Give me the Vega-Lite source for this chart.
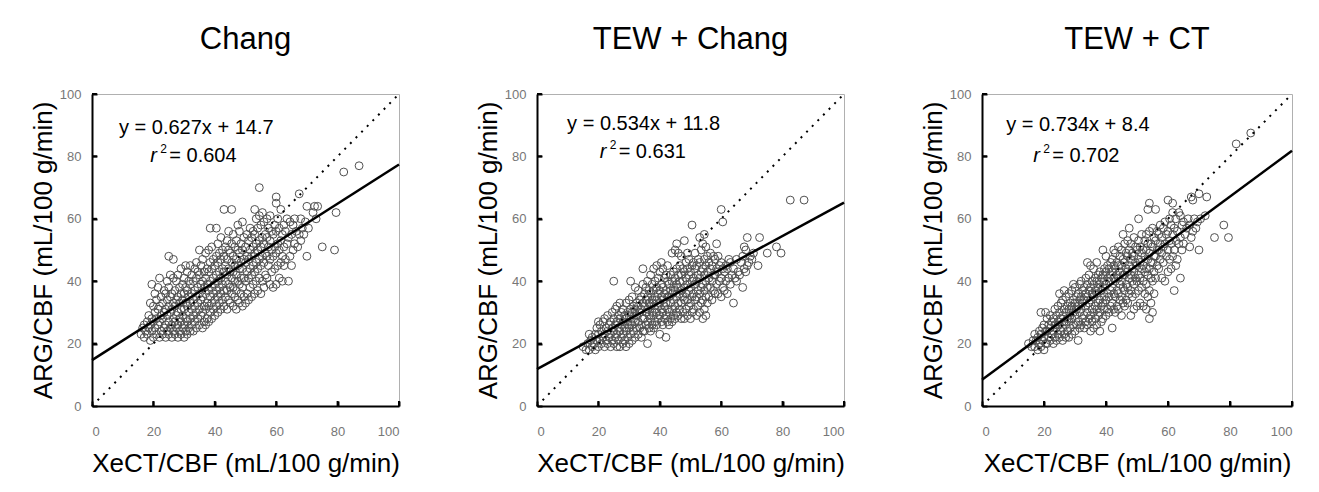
{
"$schema": "https://vega.github.io/schema/vega-lite/v6.json",
"padding": {"left": 29, "top": 23, "right": 5, "bottom": 5},
"background": "white",
"datasets": {
"tk": [{"x":20,"y":20},{"x":40,"y":40},{"x":60,"y":60},{"x":80,"y":80},{"x":100,"y":100}],
"diag": [{"x":0,"y":0},{"x":100,"y":100}],
"fit": [{"g":"a","x":0,"y":14.7},{"g":"a","x":100,"y":77.4},{"g":"b","x":0,"y":11.8},{"g":"b","x":100,"y":65.2},{"g":"c","x":0,"y":8.4},{"g":"c","x":100,"y":81.8}],
"a": [
{"x":16,"y":23},{"x":16.5,"y":25},
{"x":17,"y":22},{"x":17.5,"y":24},{"x":17,"y":26},
{"x":18,"y":23},{"x":18.5,"y":25},{"x":18,"y":27},{"x":18.5,"y":29},
{"x":19,"y":21},{"x":19.5,"y":24},{"x":19,"y":26},{"x":19.5,"y":28},{"x":19,"y":33},{"x":19.5,"y":39},
{"x":20,"y":22},{"x":20.5,"y":25},{"x":20,"y":27},{"x":20.5,"y":30},{"x":20,"y":32},{"x":20.5,"y":36},
{"x":21,"y":23},{"x":21.5,"y":26},{"x":21,"y":28},{"x":21.5,"y":31},{"x":21,"y":34},{"x":21.5,"y":38},
{"x":22,"y":22},{"x":22.5,"y":24},{"x":22,"y":27},{"x":22.5,"y":29},{"x":22,"y":32},{"x":22.5,"y":35},{"x":22,"y":41},
{"x":23,"y":23},{"x":23.5,"y":25},{"x":23,"y":28},{"x":23.5,"y":30},{"x":23,"y":33},{"x":23.5,"y":37},
{"x":24,"y":22},{"x":24.5,"y":24},{"x":24,"y":26},{"x":24.5,"y":29},{"x":24,"y":31},{"x":24.5,"y":34},{"x":24,"y":36},{"x":24.5,"y":40},
{"x":25,"y":23},{"x":25.5,"y":25},{"x":25,"y":27},{"x":25.5,"y":30},{"x":25,"y":32},{"x":25.5,"y":35},{"x":25,"y":38},{"x":25.5,"y":42},{"x":25,"y":48},
{"x":26,"y":22},{"x":26.5,"y":24},{"x":26,"y":26},{"x":26.5,"y":28},{"x":26,"y":31},{"x":26.5,"y":33},{"x":26,"y":36},{"x":26.5,"y":41},{"x":26.5,"y":47},
{"x":27,"y":23},{"x":27.5,"y":25},{"x":27,"y":27},{"x":27.5,"y":29},{"x":27,"y":32},{"x":27.5,"y":34},{"x":27,"y":37},{"x":27.5,"y":40},
{"x":28,"y":22},{"x":28.5,"y":24},{"x":28,"y":26},{"x":28.5,"y":28},{"x":28,"y":30},{"x":28.5,"y":33},{"x":28,"y":35},{"x":28.5,"y":38},{"x":28,"y":42},
{"x":29,"y":23},{"x":29.5,"y":25},{"x":29,"y":27},{"x":29.5,"y":29},{"x":29,"y":31},{"x":29.5,"y":34},{"x":29,"y":36},{"x":29.5,"y":39},{"x":29,"y":44},
{"x":30,"y":22},{"x":30.5,"y":24},{"x":30,"y":26},{"x":30.5,"y":28},{"x":30,"y":31},{"x":30.5,"y":33},{"x":30,"y":36},{"x":30.5,"y":38},{"x":30,"y":41},{"x":30.5,"y":45},
{"x":31,"y":23},{"x":31.5,"y":25},{"x":31,"y":27},{"x":31.5,"y":30},{"x":31,"y":32},{"x":31.5,"y":35},{"x":31,"y":37},{"x":31.5,"y":40},{"x":31,"y":43},
{"x":32,"y":24},{"x":32.5,"y":26},{"x":32,"y":28},{"x":32.5,"y":31},{"x":32,"y":33},{"x":32.5,"y":36},{"x":32,"y":39},{"x":32.5,"y":42},{"x":32,"y":45},
{"x":33,"y":24},{"x":33.5,"y":27},{"x":33,"y":29},{"x":33.5,"y":32},{"x":33,"y":34},{"x":33.5,"y":37},{"x":33,"y":40},{"x":33.5,"y":44},
{"x":34,"y":25},{"x":34.5,"y":28},{"x":34,"y":30},{"x":34.5,"y":33},{"x":34,"y":35},{"x":34.5,"y":38},{"x":34,"y":41},{"x":34.5,"y":43},{"x":34,"y":46},
{"x":35,"y":26},{"x":35.5,"y":29},{"x":35,"y":31},{"x":35.5,"y":34},{"x":35,"y":36},{"x":35.5,"y":39},{"x":35,"y":42},{"x":35.5,"y":45},{"x":35,"y":50},
{"x":36,"y":25},{"x":36.5,"y":27},{"x":36,"y":30},{"x":36.5,"y":32},{"x":36,"y":35},{"x":36.5,"y":38},{"x":36,"y":40},{"x":36.5,"y":43},{"x":36,"y":47},
{"x":37,"y":26},{"x":37.5,"y":28},{"x":37,"y":31},{"x":37.5,"y":33},{"x":37,"y":36},{"x":37.5,"y":39},{"x":37,"y":41},{"x":37.5,"y":44},{"x":37,"y":49},
{"x":38,"y":27},{"x":38.5,"y":30},{"x":38,"y":32},{"x":38.5,"y":35},{"x":38,"y":37},{"x":38.5,"y":40},{"x":38,"y":43},{"x":38.5,"y":46},{"x":38,"y":50},{"x":38.5,"y":57},
{"x":39,"y":28},{"x":39.5,"y":31},{"x":39,"y":33},{"x":39.5,"y":36},{"x":39,"y":38},{"x":39.5,"y":41},{"x":39,"y":44},{"x":39.5,"y":47},{"x":39,"y":51},
{"x":40,"y":29},{"x":40.5,"y":32},{"x":40,"y":34},{"x":40.5,"y":37},{"x":40,"y":39},{"x":40.5,"y":42},{"x":40,"y":45},{"x":40.5,"y":48},{"x":40.5,"y":57},
{"x":41,"y":30},{"x":41.5,"y":33},{"x":41,"y":35},{"x":41.5,"y":38},{"x":41,"y":40},{"x":41.5,"y":43},{"x":41,"y":46},{"x":41.5,"y":49},{"x":41,"y":52},
{"x":42,"y":31},{"x":42.5,"y":34},{"x":42,"y":36},{"x":42.5,"y":39},{"x":42,"y":41},{"x":42.5,"y":44},{"x":42,"y":47},{"x":42.5,"y":50},{"x":42,"y":54},
{"x":43,"y":32},{"x":43.5,"y":35},{"x":43,"y":37},{"x":43.5,"y":40},{"x":43,"y":43},{"x":43.5,"y":45},{"x":43,"y":48},{"x":43.5,"y":51},{"x":43,"y":63},
{"x":44,"y":31},{"x":44.5,"y":34},{"x":44,"y":37},{"x":44.5,"y":39},{"x":44,"y":42},{"x":44.5,"y":44},{"x":44,"y":47},{"x":44.5,"y":50},{"x":44,"y":53},{"x":44.5,"y":56},
{"x":45,"y":33},{"x":45.5,"y":36},{"x":45,"y":38},{"x":45.5,"y":41},{"x":45,"y":43},{"x":45.5,"y":46},{"x":45,"y":49},{"x":45.5,"y":52},{"x":45.5,"y":63},
{"x":46,"y":32},{"x":46.5,"y":35},{"x":46,"y":38},{"x":46.5,"y":40},{"x":46,"y":43},{"x":46.5,"y":45},{"x":46,"y":48},{"x":46.5,"y":51},{"x":46,"y":55},
{"x":47,"y":31},{"x":47.5,"y":34},{"x":47,"y":37},{"x":47.5,"y":40},{"x":47,"y":42},{"x":47.5,"y":45},{"x":47,"y":47},{"x":47.5,"y":50},{"x":47,"y":53},{"x":47.5,"y":58},
{"x":48,"y":33},{"x":48.5,"y":36},{"x":48,"y":39},{"x":48.5,"y":41},{"x":48,"y":44},{"x":48.5,"y":46},{"x":48,"y":49},{"x":48.5,"y":52},{"x":48,"y":56},
{"x":49,"y":32},{"x":49.5,"y":35},{"x":49,"y":38},{"x":49.5,"y":41},{"x":49,"y":44},{"x":49.5,"y":47},{"x":49,"y":50},{"x":49.5,"y":54},{"x":49,"y":59},
{"x":50,"y":33},{"x":50.5,"y":36},{"x":50,"y":40},{"x":50.5,"y":43},{"x":50,"y":46},{"x":50.5,"y":48},{"x":50,"y":51},{"x":50.5,"y":55},
{"x":51,"y":34},{"x":51.5,"y":38},{"x":51,"y":41},{"x":51.5,"y":44},{"x":51,"y":47},{"x":51.5,"y":50},{"x":51,"y":53},{"x":51.5,"y":57},
{"x":52,"y":35},{"x":52.5,"y":39},{"x":52,"y":42},{"x":52.5,"y":45},{"x":52,"y":48},{"x":52.5,"y":51},{"x":52,"y":54},{"x":52.5,"y":56},
{"x":53,"y":36},{"x":53.5,"y":40},{"x":53,"y":43},{"x":53.5,"y":46},{"x":53,"y":49},{"x":53.5,"y":52},{"x":53,"y":55},{"x":53.5,"y":60},{"x":53,"y":63},
{"x":54,"y":37},{"x":54.5,"y":41},{"x":54,"y":44},{"x":54.5,"y":47},{"x":54,"y":50},{"x":54.5,"y":53},{"x":54,"y":57},{"x":54.5,"y":61},{"x":54.5,"y":70},
{"x":55,"y":36},{"x":55.5,"y":40},{"x":55,"y":45},{"x":55.5,"y":48},{"x":55,"y":51},{"x":55.5,"y":54},{"x":55,"y":58},{"x":55.5,"y":62},
{"x":56,"y":38},{"x":56.5,"y":42},{"x":56,"y":46},{"x":56.5,"y":49},{"x":56,"y":52},{"x":56.5,"y":55},{"x":56,"y":59},
{"x":57,"y":41},{"x":57.5,"y":45},{"x":57,"y":48},{"x":57.5,"y":51},{"x":57,"y":54},{"x":57.5,"y":57},{"x":57,"y":60},
{"x":58,"y":39},{"x":58.5,"y":43},{"x":58,"y":47},{"x":58.5,"y":50},{"x":58,"y":53},{"x":58.5,"y":56},{"x":58,"y":61},
{"x":59,"y":38},{"x":59.5,"y":44},{"x":59,"y":48},{"x":59.5,"y":51},{"x":59,"y":55},{"x":59.5,"y":58},
{"x":60,"y":39},{"x":60.5,"y":45},{"x":60,"y":49},{"x":60.5,"y":52},{"x":60,"y":56},{"x":60.5,"y":60},{"x":60,"y":65},{"x":60,"y":67},
{"x":61,"y":41},{"x":61.5,"y":46},{"x":61,"y":50},{"x":61.5,"y":53},{"x":61,"y":57},{"x":61.5,"y":63},
{"x":62,"y":40},{"x":62.5,"y":45},{"x":62,"y":48},{"x":62.5,"y":51},{"x":62,"y":55},{"x":62.5,"y":58},
{"x":63,"y":47},{"x":63.5,"y":52},{"x":63,"y":56},{"x":63.5,"y":60},
{"x":64,"y":40},{"x":64.5,"y":48},{"x":64,"y":54},{"x":64.5,"y":59},
{"x":65,"y":45},{"x":65.5,"y":50},{"x":65,"y":55},{"x":65.5,"y":58},
{"x":66,"y":52},{"x":66.5,"y":56},{"x":66,"y":60},
{"x":67,"y":51},{"x":67.5,"y":55},{"x":67.5,"y":68},
{"x":68,"y":53},{"x":68.5,"y":57},{"x":68,"y":60},
{"x":69,"y":55},{"x":69.5,"y":59},
{"x":70,"y":48},{"x":70.5,"y":57},{"x":70,"y":64},
{"x":72,"y":62},{"x":72.5,"y":64},
{"x":73,"y":60},{"x":73.5,"y":64},
{"x":75,"y":51},
{"x":79,"y":50},{"x":79.5,"y":62},
{"x":82,"y":75},
{"x":87,"y":77}
],
"b": [
{"x":15,"y":19},
{"x":16,"y":18},{"x":16.5,"y":20},
{"x":17,"y":18},{"x":17.5,"y":21},{"x":17,"y":23},
{"x":18,"y":19},{"x":18.5,"y":20},{"x":18,"y":22},
{"x":19,"y":18},{"x":19.5,"y":21},{"x":19,"y":23},{"x":19.5,"y":25},
{"x":20,"y":19},{"x":20.5,"y":21},{"x":20,"y":23},{"x":20.5,"y":26},{"x":20,"y":27},
{"x":21,"y":20},{"x":21.5,"y":22},{"x":21,"y":24},{"x":21.5,"y":27},
{"x":22,"y":19},{"x":22.5,"y":21},{"x":22,"y":23},{"x":22.5,"y":25},{"x":22,"y":28},
{"x":23,"y":20},{"x":23.5,"y":22},{"x":23,"y":24},{"x":23.5,"y":26},{"x":23,"y":29},
{"x":24,"y":19},{"x":24.5,"y":21},{"x":24,"y":23},{"x":24.5,"y":25},{"x":24,"y":27},{"x":24.5,"y":30},
{"x":25,"y":20},{"x":25.5,"y":22},{"x":25,"y":24},{"x":25.5,"y":26},{"x":25,"y":28},{"x":25.5,"y":31},{"x":25,"y":40},
{"x":26,"y":19},{"x":26.5,"y":21},{"x":26,"y":23},{"x":26.5,"y":25},{"x":26,"y":27},{"x":26.5,"y":29},{"x":26,"y":32},
{"x":27,"y":19},{"x":27.5,"y":22},{"x":27,"y":24},{"x":27.5,"y":26},{"x":27,"y":28},{"x":27.5,"y":30},{"x":27,"y":33},
{"x":28,"y":20},{"x":28.5,"y":21},{"x":28,"y":23},{"x":28.5,"y":25},{"x":28,"y":27},{"x":28.5,"y":29},{"x":28,"y":31},
{"x":29,"y":19},{"x":29.5,"y":22},{"x":29,"y":24},{"x":29.5,"y":26},{"x":29,"y":28},{"x":29.5,"y":30},{"x":29,"y":33},
{"x":30,"y":20},{"x":30.5,"y":23},{"x":30,"y":25},{"x":30.5,"y":27},{"x":30,"y":29},{"x":30.5,"y":31},{"x":30,"y":34},{"x":30.5,"y":40},
{"x":31,"y":21},{"x":31.5,"y":24},{"x":31,"y":26},{"x":31.5,"y":28},{"x":31,"y":30},{"x":31.5,"y":32},{"x":31,"y":35},
{"x":32,"y":22},{"x":32.5,"y":25},{"x":32,"y":27},{"x":32.5,"y":29},{"x":32,"y":31},{"x":32.5,"y":33},{"x":32,"y":38},
{"x":33,"y":23},{"x":33.5,"y":25},{"x":33,"y":27},{"x":33.5,"y":30},{"x":33,"y":32},{"x":33.5,"y":34},{"x":33,"y":37},
{"x":34,"y":22},{"x":34.5,"y":24},{"x":34,"y":26},{"x":34.5,"y":28},{"x":34,"y":31},{"x":34.5,"y":33},{"x":34,"y":35},{"x":34.5,"y":39},{"x":34.5,"y":44},
{"x":35,"y":24},{"x":35.5,"y":26},{"x":35,"y":28},{"x":35.5,"y":30},{"x":35,"y":32},{"x":35.5,"y":34},{"x":35,"y":36},{"x":35.5,"y":38},
{"x":36,"y":20},{"x":36.5,"y":25},{"x":36,"y":27},{"x":36.5,"y":29},{"x":36,"y":31},{"x":36.5,"y":33},{"x":36,"y":35},{"x":36.5,"y":37},{"x":36,"y":40},
{"x":37,"y":24},{"x":37.5,"y":26},{"x":37,"y":28},{"x":37.5,"y":30},{"x":37,"y":32},{"x":37.5,"y":34},{"x":37,"y":36},{"x":37.5,"y":39},{"x":37,"y":42},
{"x":38,"y":25},{"x":38.5,"y":27},{"x":38,"y":29},{"x":38.5,"y":31},{"x":38,"y":33},{"x":38.5,"y":35},{"x":38,"y":37},{"x":38.5,"y":40},{"x":38,"y":44},
{"x":39,"y":26},{"x":39.5,"y":28},{"x":39,"y":30},{"x":39.5,"y":32},{"x":39,"y":34},{"x":39.5,"y":36},{"x":39,"y":38},{"x":39.5,"y":41},{"x":39,"y":45},
{"x":40,"y":23},{"x":40.5,"y":27},{"x":40,"y":29},{"x":40.5,"y":31},{"x":40,"y":33},{"x":40.5,"y":35},{"x":40,"y":37},{"x":40.5,"y":39},{"x":40,"y":43},{"x":40.5,"y":46},
{"x":41,"y":26},{"x":41.5,"y":28},{"x":41,"y":30},{"x":41.5,"y":32},{"x":41,"y":34},{"x":41.5,"y":36},{"x":41,"y":38},{"x":41.5,"y":41},{"x":41,"y":44},
{"x":42,"y":22},{"x":42.5,"y":27},{"x":42,"y":29},{"x":42.5,"y":31},{"x":42,"y":33},{"x":42.5,"y":35},{"x":42,"y":37},{"x":42.5,"y":40},{"x":42,"y":42},{"x":42.5,"y":45},
{"x":43,"y":26},{"x":43.5,"y":28},{"x":43,"y":30},{"x":43.5,"y":33},{"x":43,"y":35},{"x":43.5,"y":37},{"x":43,"y":39},{"x":43.5,"y":42},
{"x":44,"y":27},{"x":44.5,"y":29},{"x":44,"y":31},{"x":44.5,"y":34},{"x":44,"y":36},{"x":44.5,"y":38},{"x":44,"y":40},{"x":44.5,"y":43},{"x":44,"y":49},
{"x":45,"y":28},{"x":45.5,"y":30},{"x":45,"y":32},{"x":45.5,"y":35},{"x":45,"y":37},{"x":45.5,"y":39},{"x":45,"y":41},{"x":45.5,"y":44},{"x":45,"y":50},{"x":45.5,"y":52},
{"x":46,"y":29},{"x":46.5,"y":31},{"x":46,"y":33},{"x":46.5,"y":36},{"x":46,"y":38},{"x":46.5,"y":40},{"x":46,"y":42},{"x":46.5,"y":45},{"x":46,"y":49},
{"x":47,"y":28},{"x":47.5,"y":30},{"x":47,"y":33},{"x":47.5,"y":35},{"x":47,"y":37},{"x":47.5,"y":40},{"x":47,"y":42},{"x":47.5,"y":44},{"x":47,"y":48},
{"x":48,"y":28},{"x":48.5,"y":31},{"x":48,"y":34},{"x":48.5,"y":36},{"x":48,"y":38},{"x":48.5,"y":41},{"x":48,"y":43},{"x":48.5,"y":46},{"x":48,"y":53},
{"x":49,"y":29},{"x":49.5,"y":32},{"x":49,"y":34},{"x":49.5,"y":37},{"x":49,"y":39},{"x":49.5,"y":42},{"x":49,"y":44},{"x":49.5,"y":47},{"x":49,"y":49},
{"x":50,"y":28},{"x":50.5,"y":30},{"x":50,"y":33},{"x":50.5,"y":35},{"x":50,"y":38},{"x":50.5,"y":40},{"x":50,"y":43},{"x":50.5,"y":45},{"x":50.5,"y":58},
{"x":51,"y":31},{"x":51.5,"y":34},{"x":51,"y":36},{"x":51.5,"y":39},{"x":51,"y":41},{"x":51.5,"y":44},{"x":51,"y":46},{"x":51.5,"y":49},
{"x":52,"y":29},{"x":52.5,"y":32},{"x":52,"y":35},{"x":52.5,"y":37},{"x":52,"y":40},{"x":52.5,"y":42},{"x":52,"y":45},{"x":52.5,"y":47},
{"x":53,"y":30},{"x":53.5,"y":33},{"x":53,"y":36},{"x":53.5,"y":38},{"x":53,"y":41},{"x":53.5,"y":43},{"x":53,"y":46},{"x":53.5,"y":50},{"x":53,"y":54},
{"x":54,"y":28},{"x":54.5,"y":31},{"x":54,"y":34},{"x":54.5,"y":37},{"x":54,"y":39},{"x":54.5,"y":42},{"x":54,"y":44},{"x":54.5,"y":47},{"x":54,"y":52},{"x":54.5,"y":55},
{"x":55,"y":29},{"x":55.5,"y":33},{"x":55,"y":35},{"x":55.5,"y":38},{"x":55,"y":40},{"x":55.5,"y":43},{"x":55,"y":45},{"x":55.5,"y":48},{"x":55,"y":51},
{"x":56,"y":35},{"x":56.5,"y":38},{"x":56,"y":41},{"x":56.5,"y":44},{"x":56,"y":46},{"x":56.5,"y":49},
{"x":57,"y":34},{"x":57.5,"y":37},{"x":57,"y":40},{"x":57.5,"y":42},{"x":57,"y":45},{"x":57.5,"y":48},
{"x":58,"y":36},{"x":58.5,"y":39},{"x":58,"y":42},{"x":58.5,"y":44},{"x":58,"y":47},{"x":58.5,"y":52},
{"x":59,"y":36},{"x":59.5,"y":40},{"x":59,"y":43},{"x":59.5,"y":45},{"x":59,"y":48},
{"x":60,"y":35},{"x":60.5,"y":38},{"x":60,"y":41},{"x":60.5,"y":44},{"x":60,"y":46},{"x":60.5,"y":59},{"x":60,"y":63},
{"x":61,"y":37},{"x":61.5,"y":40},{"x":61,"y":43},{"x":61.5,"y":45},
{"x":62,"y":36},{"x":62.5,"y":41},{"x":62,"y":44},{"x":62.5,"y":47},
{"x":63,"y":39},{"x":63.5,"y":42},{"x":63,"y":46},
{"x":64,"y":33},{"x":64.5,"y":41},{"x":64,"y":44},
{"x":65,"y":40},{"x":65.5,"y":43},{"x":65,"y":47},
{"x":66,"y":42},{"x":66.5,"y":46},
{"x":67,"y":38},{"x":67.5,"y":44},{"x":67,"y":48},{"x":67.5,"y":51},
{"x":68,"y":43},{"x":68.5,"y":45},{"x":68,"y":50},{"x":68.5,"y":54},
{"x":69,"y":46},{"x":69.5,"y":48},
{"x":70,"y":47},{"x":70.5,"y":49},
{"x":72,"y":45},{"x":72.5,"y":54},
{"x":75,"y":49},
{"x":78,"y":51},
{"x":79.5,"y":49},
{"x":82.5,"y":66},
{"x":87,"y":66}
],
"c": [
{"x":15,"y":20},
{"x":16,"y":19},{"x":16.5,"y":21},
{"x":17,"y":19},{"x":17.5,"y":21},{"x":17,"y":23},
{"x":18,"y":18},{"x":18.5,"y":20},{"x":18,"y":22},{"x":18.5,"y":24},
{"x":19,"y":19},{"x":19.5,"y":21},{"x":19,"y":23},{"x":19.5,"y":25},{"x":19,"y":30},
{"x":20,"y":18},{"x":20.5,"y":20},{"x":20,"y":22},{"x":20.5,"y":24},{"x":20,"y":26},{"x":20.5,"y":30},
{"x":21,"y":20},{"x":21.5,"y":22},{"x":21,"y":24},{"x":21.5,"y":26},{"x":21,"y":28},
{"x":22,"y":21},{"x":22.5,"y":23},{"x":22,"y":25},{"x":22.5,"y":27},{"x":22,"y":29},
{"x":23,"y":20},{"x":23.5,"y":22},{"x":23,"y":24},{"x":23.5,"y":26},{"x":23,"y":28},{"x":23.5,"y":31},
{"x":24,"y":21},{"x":24.5,"y":23},{"x":24,"y":25},{"x":24.5,"y":27},{"x":24,"y":29},{"x":24.5,"y":32},
{"x":25,"y":22},{"x":25.5,"y":24},{"x":25,"y":26},{"x":25.5,"y":28},{"x":25,"y":30},{"x":25.5,"y":33},{"x":25,"y":36},
{"x":26,"y":21},{"x":26.5,"y":23},{"x":26,"y":25},{"x":26.5,"y":27},{"x":26,"y":29},{"x":26.5,"y":31},{"x":26,"y":34},{"x":26.5,"y":37},
{"x":27,"y":22},{"x":27.5,"y":24},{"x":27,"y":26},{"x":27.5,"y":28},{"x":27,"y":30},{"x":27.5,"y":32},{"x":27,"y":35},
{"x":28,"y":22},{"x":28.5,"y":25},{"x":28,"y":27},{"x":28.5,"y":29},{"x":28,"y":31},{"x":28.5,"y":33},{"x":28,"y":36},
{"x":29,"y":23},{"x":29.5,"y":26},{"x":29,"y":28},{"x":29.5,"y":30},{"x":29,"y":32},{"x":29.5,"y":34},{"x":29,"y":37},{"x":29.5,"y":39},
{"x":30,"y":24},{"x":30.5,"y":26},{"x":30,"y":29},{"x":30.5,"y":31},{"x":30,"y":33},{"x":30.5,"y":35},{"x":30,"y":38},
{"x":31,"y":21},{"x":31.5,"y":25},{"x":31,"y":27},{"x":31.5,"y":30},{"x":31,"y":32},{"x":31.5,"y":34},{"x":31,"y":36},{"x":31.5,"y":39},
{"x":32,"y":26},{"x":32.5,"y":28},{"x":32,"y":31},{"x":32.5,"y":33},{"x":32,"y":35},{"x":32.5,"y":37},{"x":32,"y":40},
{"x":33,"y":25},{"x":33.5,"y":27},{"x":33,"y":29},{"x":33.5,"y":32},{"x":33,"y":34},{"x":33.5,"y":36},{"x":33,"y":38},{"x":33.5,"y":41},
{"x":34,"y":26},{"x":34.5,"y":28},{"x":34,"y":30},{"x":34.5,"y":33},{"x":34,"y":35},{"x":34.5,"y":37},{"x":34,"y":39},{"x":34.5,"y":42},{"x":34,"y":46},
{"x":35,"y":24},{"x":35.5,"y":27},{"x":35,"y":29},{"x":35.5,"y":31},{"x":35,"y":34},{"x":35.5,"y":36},{"x":35,"y":38},{"x":35.5,"y":40},{"x":35,"y":45},
{"x":36,"y":25},{"x":36.5,"y":28},{"x":36,"y":30},{"x":36.5,"y":32},{"x":36,"y":35},{"x":36.5,"y":37},{"x":36,"y":39},{"x":36.5,"y":41},{"x":36,"y":44},
{"x":37,"y":26},{"x":37.5,"y":29},{"x":37,"y":31},{"x":37.5,"y":33},{"x":37,"y":36},{"x":37.5,"y":38},{"x":37,"y":40},{"x":37.5,"y":42},{"x":37,"y":46},
{"x":38,"y":24},{"x":38.5,"y":27},{"x":38,"y":30},{"x":38.5,"y":32},{"x":38,"y":34},{"x":38.5,"y":37},{"x":38,"y":39},{"x":38.5,"y":41},{"x":38,"y":43},
{"x":39,"y":28},{"x":39.5,"y":31},{"x":39,"y":33},{"x":39.5,"y":35},{"x":39,"y":38},{"x":39.5,"y":40},{"x":39,"y":42},{"x":39.5,"y":44},{"x":39,"y":50},
{"x":40,"y":29},{"x":40.5,"y":31},{"x":40,"y":34},{"x":40.5,"y":36},{"x":40,"y":39},{"x":40.5,"y":41},{"x":40,"y":43},{"x":40.5,"y":45},{"x":40,"y":48},
{"x":41,"y":30},{"x":41.5,"y":32},{"x":41,"y":35},{"x":41.5,"y":37},{"x":41,"y":40},{"x":41.5,"y":42},{"x":41,"y":44},{"x":41.5,"y":46},
{"x":42,"y":25},{"x":42.5,"y":31},{"x":42,"y":33},{"x":42.5,"y":36},{"x":42,"y":38},{"x":42.5,"y":41},{"x":42,"y":43},{"x":42.5,"y":45},{"x":42,"y":47},{"x":42.5,"y":50},
{"x":43,"y":30},{"x":43.5,"y":32},{"x":43,"y":35},{"x":43.5,"y":37},{"x":43,"y":40},{"x":43.5,"y":42},{"x":43,"y":44},{"x":43.5,"y":46},{"x":43,"y":49},
{"x":44,"y":31},{"x":44.5,"y":34},{"x":44,"y":36},{"x":44.5,"y":39},{"x":44,"y":41},{"x":44.5,"y":43},{"x":44,"y":45},{"x":44.5,"y":48},{"x":44,"y":51},
{"x":45,"y":29},{"x":45.5,"y":33},{"x":45,"y":35},{"x":45.5,"y":38},{"x":45,"y":40},{"x":45.5,"y":42},{"x":45,"y":45},{"x":45.5,"y":47},{"x":45,"y":50},{"x":45.5,"y":55},
{"x":46,"y":32},{"x":46.5,"y":34},{"x":46,"y":37},{"x":46.5,"y":39},{"x":46,"y":42},{"x":46.5,"y":44},{"x":46,"y":46},{"x":46.5,"y":49},{"x":46,"y":52},
{"x":47,"y":33},{"x":47.5,"y":36},{"x":47,"y":38},{"x":47.5,"y":41},{"x":47,"y":43},{"x":47.5,"y":45},{"x":47,"y":48},{"x":47.5,"y":50},{"x":47,"y":53},{"x":47.5,"y":57},
{"x":48,"y":29},{"x":48.5,"y":35},{"x":48,"y":37},{"x":48.5,"y":40},{"x":48,"y":42},{"x":48.5,"y":44},{"x":48,"y":47},{"x":48.5,"y":49},{"x":48,"y":52},
{"x":49,"y":31},{"x":49.5,"y":36},{"x":49,"y":39},{"x":49.5,"y":41},{"x":49,"y":43},{"x":49.5,"y":46},{"x":49,"y":48},{"x":49.5,"y":51},{"x":49,"y":54},
{"x":50,"y":32},{"x":50.5,"y":37},{"x":50,"y":40},{"x":50.5,"y":42},{"x":50,"y":45},{"x":50.5,"y":47},{"x":50,"y":50},{"x":50.5,"y":53},{"x":50.5,"y":60},
{"x":51,"y":33},{"x":51.5,"y":38},{"x":51,"y":41},{"x":51.5,"y":44},{"x":51,"y":46},{"x":51.5,"y":49},{"x":51,"y":51},{"x":51.5,"y":55},
{"x":52,"y":32},{"x":52.5,"y":36},{"x":52,"y":40},{"x":52.5,"y":43},{"x":52,"y":45},{"x":52.5,"y":48},{"x":52,"y":50},{"x":52.5,"y":53},
{"x":53,"y":31},{"x":53.5,"y":35},{"x":53,"y":39},{"x":53.5,"y":42},{"x":53,"y":44},{"x":53.5,"y":47},{"x":53,"y":50},{"x":53.5,"y":52},{"x":53,"y":55},{"x":53.5,"y":63},
{"x":54,"y":28},{"x":54.5,"y":33},{"x":54,"y":37},{"x":54.5,"y":41},{"x":54,"y":44},{"x":54.5,"y":46},{"x":54,"y":49},{"x":54.5,"y":52},{"x":54,"y":56},{"x":54,"y":65},
{"x":55,"y":30},{"x":55.5,"y":36},{"x":55,"y":40},{"x":55.5,"y":43},{"x":55,"y":46},{"x":55.5,"y":48},{"x":55,"y":51},{"x":55.5,"y":54},{"x":55,"y":57},
{"x":56,"y":41},{"x":56.5,"y":45},{"x":56,"y":48},{"x":56.5,"y":50},{"x":56,"y":53},{"x":56.5,"y":56},{"x":56,"y":63},
{"x":57,"y":44},{"x":57.5,"y":47},{"x":57,"y":50},{"x":57.5,"y":52},{"x":57,"y":55},{"x":57.5,"y":58},
{"x":58,"y":41},{"x":58.5,"y":46},{"x":58,"y":49},{"x":58.5,"y":51},{"x":58,"y":54},{"x":58.5,"y":57},
{"x":59,"y":40},{"x":59.5,"y":48},{"x":59,"y":52},{"x":59.5,"y":55},{"x":59,"y":59},
{"x":60,"y":43},{"x":60.5,"y":47},{"x":60,"y":50},{"x":60.5,"y":53},{"x":60,"y":56},{"x":60.5,"y":60},{"x":60,"y":66},
{"x":61,"y":44},{"x":61.5,"y":48},{"x":61,"y":52},{"x":61.5,"y":55},{"x":61,"y":58},{"x":61.5,"y":62},{"x":61.5,"y":65},
{"x":62,"y":37},{"x":62.5,"y":45},{"x":62,"y":50},{"x":62.5,"y":53},{"x":62,"y":57},{"x":62.5,"y":60},
{"x":63,"y":47},{"x":63.5,"y":52},{"x":63,"y":56},{"x":63.5,"y":62},
{"x":64,"y":41},{"x":64.5,"y":50},{"x":64,"y":54},{"x":64.5,"y":58},{"x":64,"y":61},
{"x":65,"y":52},{"x":65.5,"y":55},{"x":65,"y":59},
{"x":66,"y":57},{"x":66.5,"y":60},
{"x":67,"y":51},{"x":67.5,"y":54},{"x":67,"y":58},{"x":67.5,"y":67},
{"x":68,"y":56},{"x":68.5,"y":60},{"x":68,"y":66},
{"x":69,"y":57},{"x":69.5,"y":59},
{"x":70,"y":50},{"x":70.5,"y":60},{"x":70,"y":68},
{"x":72,"y":61},{"x":72.5,"y":67},
{"x":75,"y":54},
{"x":78,"y":58},
{"x":79.5,"y":54},
{"x":82,"y":84},
{"x":86.7,"y":87.5}
]
},
"hconcat": [
{
"title": "Chang",
"width": 307, "height": 312,
"layer": [
{"data": {"name": "a"}, "mark": {"type": "point", "shape": "circle", "size": 62, "filled": false, "stroke": "#505050", "strokeWidth": 1, "opacity": 1},
 "encoding": {
  "x": {"field": "x", "type": "quantitative", "scale": {"domain": [0, 100], "nice": false}, "axis": {"title": "XeCT/CBF (mL/100 g/min)", "values": [0,20,40,60,80,100]}},
  "y": {"field": "y", "type": "quantitative", "scale": {"domain": [0, 100], "nice": false}, "axis": {"title": "ARG/CBF (mL/100 g/min)", "values": [0,20,40,60,80,100]}}}},
{"data": {"name": "tk"}, "mark": {"type": "rule", "color": "black", "strokeWidth": 2},
 "encoding": {"x": {"field": "x", "type": "quantitative"}, "y": {"datum": 0}, "y2": {"datum": 1.6}}},
{"data": {"name": "tk"}, "mark": {"type": "rule", "color": "black", "strokeWidth": 2},
 "encoding": {"y": {"field": "y", "type": "quantitative"}, "x": {"datum": 0}, "x2": {"datum": 1.6}}},
{"data": {"name": "diag"}, "mark": {"type": "line", "color": "black", "strokeWidth": 2, "strokeDash": [2, 6]},
 "encoding": {"x": {"field": "x", "type": "quantitative"}, "y": {"field": "y", "type": "quantitative"}}},
{"data": {"name": "fit"}, "transform": [{"filter": "datum.g == 'a'"}], "mark": {"type": "line", "color": "black", "strokeWidth": 2.5},
 "encoding": {"x": {"field": "x", "type": "quantitative"}, "y": {"field": "y", "type": "quantitative"}}},
{"data": {"values": [{"t": "y = 0.627x + 14.7"}]}, "mark": {"type": "text", "align": "left", "baseline": "middle", "fontSize": 20},
 "encoding": {"text": {"field": "t"}, "x": {"datum": 8.8}, "y": {"datum": 89}}},
{"data": {"values": [{"t": "r"}]}, "mark": {"type": "text", "align": "left", "baseline": "middle", "fontSize": 20, "fontStyle": "italic"},
 "encoding": {"text": {"field": "t"}, "x": {"datum": 19}, "y": {"datum": 80}}},
{"data": {"values": [{"t": "2"}]}, "mark": {"type": "text", "align": "left", "baseline": "middle", "fontSize": 12, "dx": 10, "dy": -7},
 "encoding": {"text": {"field": "t"}, "x": {"datum": 19}, "y": {"datum": 80}}},
{"data": {"values": [{"t": "= 0.604"}]}, "mark": {"type": "text", "align": "left", "baseline": "middle", "fontSize": 20, "dx": 19},
 "encoding": {"text": {"field": "t"}, "x": {"datum": 19}, "y": {"datum": 80}}}
]
},
{
"title": "TEW + Chang",
"width": 307, "height": 312,
"layer": [
{"data": {"name": "b"}, "mark": {"type": "point", "shape": "circle", "size": 62, "filled": false, "stroke": "#505050", "strokeWidth": 1, "opacity": 1},
 "encoding": {
  "x": {"field": "x", "type": "quantitative", "scale": {"domain": [0, 100], "nice": false}, "axis": {"title": "XeCT/CBF (mL/100 g/min)", "values": [0,20,40,60,80,100]}},
  "y": {"field": "y", "type": "quantitative", "scale": {"domain": [0, 100], "nice": false}, "axis": {"title": "ARG/CBF (mL/100 g/min)", "values": [0,20,40,60,80,100]}}}},
{"data": {"name": "tk"}, "mark": {"type": "rule", "color": "black", "strokeWidth": 2},
 "encoding": {"x": {"field": "x", "type": "quantitative"}, "y": {"datum": 0}, "y2": {"datum": 1.6}}},
{"data": {"name": "tk"}, "mark": {"type": "rule", "color": "black", "strokeWidth": 2},
 "encoding": {"y": {"field": "y", "type": "quantitative"}, "x": {"datum": 0}, "x2": {"datum": 1.6}}},
{"data": {"name": "diag"}, "mark": {"type": "line", "color": "black", "strokeWidth": 2, "strokeDash": [2, 6]},
 "encoding": {"x": {"field": "x", "type": "quantitative"}, "y": {"field": "y", "type": "quantitative"}}},
{"data": {"name": "fit"}, "transform": [{"filter": "datum.g == 'b'"}], "mark": {"type": "line", "color": "black", "strokeWidth": 2.5},
 "encoding": {"x": {"field": "x", "type": "quantitative"}, "y": {"field": "y", "type": "quantitative"}}},
{"data": {"values": [{"t": "y = 0.534x + 11.8"}]}, "mark": {"type": "text", "align": "left", "baseline": "middle", "fontSize": 20},
 "encoding": {"text": {"field": "t"}, "x": {"datum": 9.8}, "y": {"datum": 90.5}}},
{"data": {"values": [{"t": "r"}]}, "mark": {"type": "text", "align": "left", "baseline": "middle", "fontSize": 20, "fontStyle": "italic"},
 "encoding": {"text": {"field": "t"}, "x": {"datum": 20.4}, "y": {"datum": 81.5}}},
{"data": {"values": [{"t": "2"}]}, "mark": {"type": "text", "align": "left", "baseline": "middle", "fontSize": 12, "dx": 10, "dy": -7},
 "encoding": {"text": {"field": "t"}, "x": {"datum": 20.4}, "y": {"datum": 81.5}}},
{"data": {"values": [{"t": "= 0.631"}]}, "mark": {"type": "text", "align": "left", "baseline": "middle", "fontSize": 20, "dx": 19},
 "encoding": {"text": {"field": "t"}, "x": {"datum": 20.4}, "y": {"datum": 81.5}}}
]
},
{
"title": "TEW + CT",
"width": 310, "height": 312,
"layer": [
{"data": {"name": "c"}, "mark": {"type": "point", "shape": "circle", "size": 62, "filled": false, "stroke": "#505050", "strokeWidth": 1, "opacity": 1},
 "encoding": {
  "x": {"field": "x", "type": "quantitative", "scale": {"domain": [0, 100], "nice": false}, "axis": {"title": "XeCT/CBF (mL/100 g/min)", "values": [0,20,40,60,80,100]}},
  "y": {"field": "y", "type": "quantitative", "scale": {"domain": [0, 100], "nice": false}, "axis": {"title": "ARG/CBF (mL/100 g/min)", "values": [0,20,40,60,80,100]}}}},
{"data": {"name": "tk"}, "mark": {"type": "rule", "color": "black", "strokeWidth": 2},
 "encoding": {"x": {"field": "x", "type": "quantitative"}, "y": {"datum": 0}, "y2": {"datum": 1.6}}},
{"data": {"name": "tk"}, "mark": {"type": "rule", "color": "black", "strokeWidth": 2},
 "encoding": {"y": {"field": "y", "type": "quantitative"}, "x": {"datum": 0}, "x2": {"datum": 1.6}}},
{"data": {"name": "diag"}, "mark": {"type": "line", "color": "black", "strokeWidth": 2, "strokeDash": [2, 6]},
 "encoding": {"x": {"field": "x", "type": "quantitative"}, "y": {"field": "y", "type": "quantitative"}}},
{"data": {"name": "fit"}, "transform": [{"filter": "datum.g == 'c'"}], "mark": {"type": "line", "color": "black", "strokeWidth": 2.5},
 "encoding": {"x": {"field": "x", "type": "quantitative"}, "y": {"field": "y", "type": "quantitative"}}},
{"data": {"values": [{"t": "y = 0.734x + 8.4"}]}, "mark": {"type": "text", "align": "left", "baseline": "middle", "fontSize": 20},
 "encoding": {"text": {"field": "t"}, "x": {"datum": 7.8}, "y": {"datum": 90}}},
{"data": {"values": [{"t": "r"}]}, "mark": {"type": "text", "align": "left", "baseline": "middle", "fontSize": 20, "fontStyle": "italic"},
 "encoding": {"text": {"field": "t"}, "x": {"datum": 16.5}, "y": {"datum": 80}}},
{"data": {"values": [{"t": "2"}]}, "mark": {"type": "text", "align": "left", "baseline": "middle", "fontSize": 12, "dx": 10, "dy": -7},
 "encoding": {"text": {"field": "t"}, "x": {"datum": 16.5}, "y": {"datum": 80}}},
{"data": {"values": [{"t": "= 0.702"}]}, "mark": {"type": "text", "align": "left", "baseline": "middle", "fontSize": 20, "dx": 19},
 "encoding": {"text": {"field": "t"}, "x": {"datum": 16.5}, "y": {"datum": 80}}}
]
}
],
"config": {
 "font": "Liberation Sans",
 "view": {"stroke": "#b0b0b0", "strokeWidth": 1},
 "axis": {"zindex": 1, "domainColor": "black", "domainWidth": 2, "tickColor": "black", "tickWidth": 2, "tickSize": -5, "labelFontSize": 13, "labelColor": "#777", "titleFontSize": 26, "titleFontWeight": "normal", "titleColor": "black", "grid": false, "labelFont": "Liberation Sans", "titleFont": "Liberation Sans"},
 "axisX": {"labelPadding": 24, "titlePadding": 12},
 "axisY": {"labelPadding": 16, "titlePadding": 3},
 "title": {"fontSize": 31, "fontWeight": "normal", "offset": 32, "font": "Liberation Sans", "color": "black"},
 "concat": {"spacing": 69},
 "text": {"font": "Liberation Sans", "color": "black"}
}
}
